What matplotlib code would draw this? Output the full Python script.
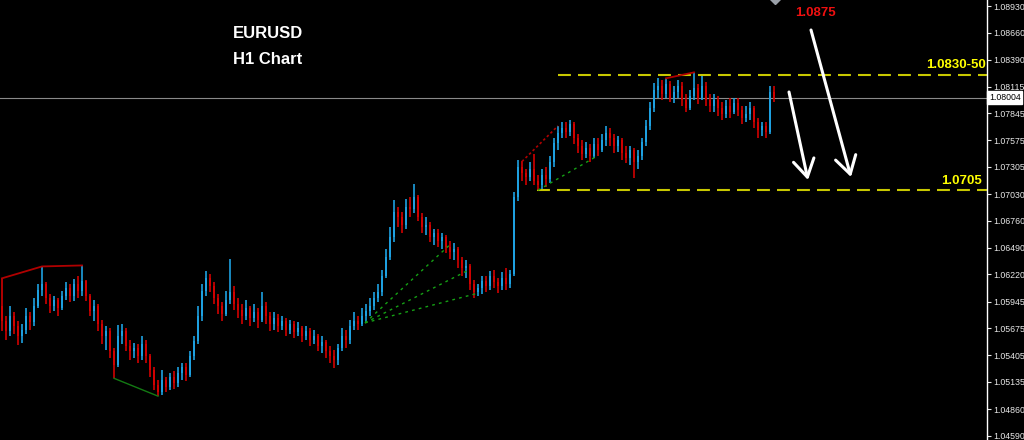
import matplotlib
matplotlib.use("Agg")
import matplotlib.pyplot as plt
import matplotlib.patches as mpatches
import numpy as np

# ---------------- data (EURUSD H1 candles) ----------------
first_open = 1.0590
close = [1.0575,1.0565,1.0580,1.0570,1.0560,1.0566,1.0580,1.0574,1.0590,1.0606,1.0612,
         1.0598,1.0590,1.0596,1.0588,1.0600,1.0608,1.0600,1.0612,1.0605,1.0615,
         1.0600,1.0585,1.0590,1.0572,1.0560,1.0565,1.0545,1.0530,
         1.0560,1.0565,1.0550,1.0545,1.0548,1.0540,1.0552,1.0540,1.0525,
         1.0510,1.0503,1.0515,1.0508,1.0518,1.0512,
         1.0522,1.0528,1.0520,1.0540,1.0555,1.0580,1.0605,1.0618,1.0610,
         1.0598,1.0590,1.0582,1.0596,1.0604,1.0592,
         1.0586,1.0580,1.0588,1.0578,1.0584,1.0576,1.0590,1.0580,1.0572,1.0578,
         1.0570,1.0575,1.0566,1.0572,1.0564,1.0568,1.0560,1.0565,1.0556,1.0560,1.0550,1.0554,1.0545,1.0540,1.0536,
         1.0548,1.0560,1.0556,1.0570,1.0575,1.0572,1.0580,1.0585,1.0590,1.0598,1.0604,
         1.0620,1.0640,1.0660,1.0685,1.0680,1.0672,1.0690,1.0688,1.0700,
         1.0680,1.0670,1.0672,1.0660,1.0664,1.0656,1.0660,1.0650,1.0645,1.0648,1.0636,1.0628,1.0630,
         1.0612,1.0604,1.0608,1.0615,1.0610,1.0620,1.0614,1.0610,1.0618,1.0612,1.0622,
         1.0700,1.0730,1.0724,1.0720,1.0728,1.0716,
         1.0712,1.0722,1.0718,1.0735,1.0755,1.0765,
         1.0770,1.0766,1.0774,1.0760,1.0752,1.0744,1.0750,1.0742,1.0754,1.0748,
         1.0758,1.0765,1.0760,1.0752,1.0758,1.0745,1.0740,1.0748,1.0735,1.0742,
         1.0756,1.0772,1.0790,1.0808,1.0812,
         1.0804,1.0814,1.0800,1.0806,1.0812,1.0798,1.0790,1.0802,1.0810,1.0800,1.0812,1.0798,1.0792,
         1.0798,1.0790,1.0784,1.0792,1.0786,1.0795,1.0788,1.0780,1.0784,1.0790,1.0776,1.0768,1.0772,1.0766,
         1.0806,1.0800]
high = [1.0618,1.0580,1.0590,1.0584,1.0575,1.0572,1.0588,1.0584,1.0598,1.0612,1.0630,
        1.0614,1.0602,1.0600,1.0598,1.0605,1.0614,1.0612,1.0617,1.0620,1.0631,
        1.0616,1.0602,1.0596,1.0592,1.0576,1.0570,1.0568,1.0548,
        1.0571,1.0572,1.0568,1.0556,1.0553,1.0552,1.0560,1.0556,1.0542,
        1.0528,1.0515,1.0525,1.0518,1.0522,1.0524,
        1.0528,1.0532,1.0532,1.0545,1.0560,1.0590,1.0612,1.0625,1.0622,
        1.0614,1.0602,1.0594,1.0605,1.0638,1.0610,
        1.0598,1.0592,1.0596,1.0590,1.0592,1.0588,1.0604,1.0594,1.0584,1.0584,
        1.0582,1.0580,1.0578,1.0576,1.0575,1.0574,1.0570,1.0570,1.0568,1.0566,1.0562,1.0560,1.0556,1.0550,1.0546,
        1.0552,1.0568,1.0566,1.0576,1.0584,1.0580,1.0588,1.0592,1.0598,1.0604,1.0612,
        1.0626,1.0648,1.0670,1.0697,1.0690,1.0685,1.0698,1.0700,1.0713,
        1.0702,1.0684,1.0680,1.0675,1.0668,1.0668,1.0664,1.0662,1.0656,1.0654,1.0650,1.0640,1.0636,
        1.0632,1.0616,1.0612,1.0620,1.0620,1.0625,1.0626,1.0618,1.0624,1.0628,1.0626,
        1.0705,1.0738,1.0736,1.0728,1.0735,1.0744,
        1.0722,1.0728,1.0730,1.0742,1.0760,1.0772,
        1.0776,1.0776,1.0778,1.0776,1.0764,1.0758,1.0756,1.0754,1.0760,1.0760,
        1.0764,1.0772,1.0770,1.0764,1.0762,1.0760,1.0752,1.0752,1.0750,1.0748,
        1.0760,1.0778,1.0796,1.0815,1.0820,
        1.0818,1.0820,1.0817,1.0812,1.0818,1.0816,1.0804,1.0808,1.0826,1.0814,1.0822,1.0816,1.0804,
        1.0804,1.0802,1.0796,1.0798,1.0800,1.0800,1.0800,1.0792,1.0792,1.0796,1.0792,1.0780,1.0776,1.0776,
        1.0812,1.0812]
low = [1.0565,1.0556,1.0560,1.0562,1.0551,1.0553,1.0562,1.0566,1.0570,1.0588,1.0600,
       1.0592,1.0583,1.0585,1.0580,1.0586,1.0596,1.0594,1.0595,1.0598,1.0600,
       1.0595,1.0580,1.0575,1.0565,1.0552,1.0546,1.0538,1.0517,
       1.0528,1.0552,1.0545,1.0536,1.0538,1.0532,1.0536,1.0532,1.0518,
       1.0505,1.0499,1.0500,1.0503,1.0505,1.0506,
       1.0508,1.0515,1.0514,1.0518,1.0535,1.0552,1.0575,1.0600,1.0604,
       1.0592,1.0582,1.0575,1.0580,1.0592,1.0586,
       1.0578,1.0572,1.0576,1.0570,1.0574,1.0568,1.0574,1.0572,1.0565,1.0566,
       1.0564,1.0566,1.0560,1.0562,1.0558,1.0560,1.0554,1.0556,1.0550,1.0552,1.0545,1.0543,1.0538,1.0532,1.0527,
       1.0530,1.0545,1.0548,1.0552,1.0566,1.0566,1.0570,1.0574,1.0580,1.0586,1.0594,
       1.0600,1.0618,1.0636,1.0655,1.0670,1.0664,1.0668,1.0680,1.0684,
       1.0676,1.0664,1.0662,1.0655,1.0652,1.0650,1.0648,1.0644,1.0638,1.0636,1.0628,1.0620,1.0618,
       1.0606,1.0598,1.0600,1.0602,1.0604,1.0606,1.0608,1.0603,1.0606,1.0606,1.0608,
       1.0620,1.0696,1.0716,1.0712,1.0716,1.0712,
       1.0707,1.0708,1.0710,1.0714,1.0730,1.0748,
       1.0760,1.0760,1.0762,1.0754,1.0745,1.0738,1.0740,1.0735,1.0740,1.0742,
       1.0746,1.0752,1.0752,1.0745,1.0746,1.0738,1.0734,1.0732,1.0719,1.0728,
       1.0738,1.0752,1.0768,1.0786,1.0800,
       1.0798,1.0800,1.0796,1.0795,1.0800,1.0792,1.0786,1.0788,1.0798,1.0794,1.0798,1.0792,1.0786,
       1.0786,1.0782,1.0778,1.0780,1.0780,1.0784,1.0782,1.0774,1.0776,1.0778,1.0770,1.0760,1.0762,1.0760,
       1.0764,1.0796]

price_ticks = [1.08930, 1.08660, 1.08390, 1.08115, 1.07845, 1.07575, 1.07305, 1.07030,
               1.06760, 1.06490, 1.06220, 1.05945, 1.05675, 1.05405, 1.05135, 1.04860, 1.04590]
current_price = 1.08004
resistance_level = 1.0823
support_level = 1.0707
title_lines = ["EURUSD", "H1 Chart"]
target_label = "1.0875"
resistance_label = "1.0830-50"
support_label = "1.0705"

# ---------------- figure ----------------
W, H = 1024, 440
fig = plt.figure(figsize=(W / 100, H / 100), dpi=100, facecolor="black")
ax = fig.add_axes([0, 0, 987 / W, 1])
ax.set_facecolor("black")

n = len(close)
xs = np.arange(n)
c = np.array(close)
o = np.array([first_open] + close[:-1])
hi = np.array(high)
lo = np.array(low)
UP, DN = "#1ea0e0", "#d00000"
cols = [UP if cc >= oo else DN for cc, oo in zip(c, o)]

ax.vlines(xs, lo, hi, colors=cols, linewidth=1.2, zorder=3)
ax.bar(xs, np.maximum(np.abs(c - o), 0.00005), bottom=np.minimum(o, c),
       width=0.65, color=cols, linewidth=0, zorder=3)

x_max = (987 - 2) / 4
ax.set_xlim(-0.5, x_max)
ax.set_ylim(1.04547, 1.08991)

# trend lines drawn from candle extremes
ax.plot([0, 10, 20], [high[0], high[10], high[20]], color="#b00000", lw=1.3, zorder=4)
ax.plot([28, 39], [low[28], low[39]], color="#137a13", lw=1.0, zorder=4)
ax.plot([130, 139], [high[130], high[139]], color="#b00000", lw=1.2, ls=(0, (1.5, 1.5)), zorder=4)
ax.plot([166, 173], [high[166], high[173]], color="#b00000", lw=1.3, zorder=4)
ax.plot([134, 149], [low[134], low[149]], color="#15a015", lw=1.0, ls=(0, (2, 3)), zorder=4)
# green fan from swing low
fan_origin = (90.75, 1.0573)
fan_ends = [(112.0, 1.0652), (116.5, 1.0626), (119.0, 1.0603)]
for fx, fy in fan_ends:
    ax.plot([fan_origin[0], fx], [fan_origin[1], fy], color="#15a015", lw=1.0,
            ls=(0, (2, 3)), zorder=4)

# current price line
ax.axhline(current_price, color="#8a8a8a", lw=0.8, zorder=2)

# levels
dash = (0, (6.2, 3.4))
ax.hlines(resistance_level, (558 - 2) / 4, x_max, colors="#c8c800", linestyles=dash, lw=1.5, zorder=2)
ax.hlines(support_level, (537 - 2) / 4, x_max, colors="#c8c800", linestyles=dash, lw=1.5, zorder=2)

# axis styling
ax.yaxis.tick_right()
ax.set_yticks(price_ticks)
ax.set_yticklabels([f"{t:.5f}" for t in price_ticks], family="Liberation Sans")
ax.tick_params(axis="y", colors="#e8e8e8", labelsize=6.3, length=3, width=0.8, pad=1.5)
ax.tick_params(axis="x", bottom=False, labelbottom=False)
for s in ["left", "top", "bottom"]:
    ax.spines[s].set_visible(False)
ax.spines["right"].set_color("white")
ax.spines["right"].set_linewidth(1.0)

# current price label
ax.text(1.002, current_price, f"{current_price:.5f}", transform=ax.get_yaxis_transform(),
        fontsize=6.3, family="Liberation Sans", color="black", va="center", ha="left",
        bbox=dict(boxstyle="square,pad=0.2", fc="white", ec="white"), zorder=6, clip_on=False)

# texts
def px(x, y):
    return x / W, 1 - y / H

fig.text(*px(268, 33), title_lines[0], color="white", fontsize=12, fontweight="bold",
         family="Liberation Sans", ha="center", va="center")
fig.text(*px(268, 60), title_lines[1], color="white", fontsize=12, fontweight="bold",
         family="Liberation Sans", ha="center", va="center")
fig.text(*px(815, 13), target_label, color="#f01010", fontsize=9.5, fontweight="bold",
         family="Liberation Sans", ha="center", va="center")
fig.text(*px(956, 65), resistance_label, color="#ffff00", fontsize=9.5, fontweight="bold",
         family="Liberation Sans", ha="center", va="center")
fig.text(*px(962, 181), support_label, color="#ffff00", fontsize=9.5, fontweight="bold",
         family="Liberation Sans", ha="center", va="center")

# arrows (figure pixel coords)
for (x0, y0, x1, y1) in [(789, 92, 808, 180), (811, 30, 851, 177)]:
    fig.add_artist(mpatches.FancyArrowPatch(
        (x0, H - y0), (x1, H - y1), transform=None,
        arrowstyle="->,head_length=5,head_width=3", color="white", lw=2.2,
        mutation_scale=2.5, shrinkA=0, shrinkB=0))

# small marker at top
ax.plot([193.25], [1.0900], marker="D", color="#9aa0a8", ms=5, clip_on=True, zorder=5)

fig.savefig("out.png", dpi=100, facecolor="black")
